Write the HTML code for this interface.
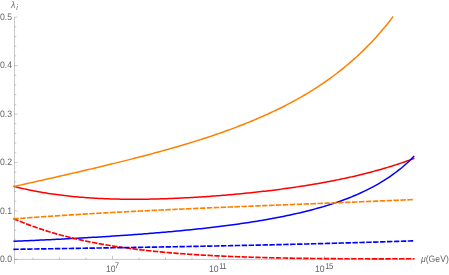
<!DOCTYPE html>
<html><head><meta charset="utf-8"><title>plot</title>
<style>
html,body{margin:0;padding:0;background:#fff;}
body{width:449px;height:275px;position:relative;overflow:hidden;font-family:"Liberation Sans",sans-serif;color:#666;}
#labels{position:absolute;left:0;top:0;width:449px;height:275px;will-change:transform;text-rendering:geometricPrecision;}
.t{position:absolute;font-size:9.3px;line-height:10px;white-space:nowrap;color:#666;transform:scaleX(0.93);transform-origin:0 50%;}
.sup{font-size:8.5px;position:relative;top:-2.8px;margin-left:0.8px;letter-spacing:-0.9px}
.sub{font-size:7.8px;position:relative;top:2px;margin-left:1.1px;}
i{font-style:italic;}
</style></head><body>
<svg width="449" height="275" viewBox="0 0 449 275" style="position:absolute;left:0;top:0">
<g stroke="#666" stroke-width="0.36" fill="none">
<line x1="14.5" y1="17.1" x2="14.5" y2="264"/>
<line x1="14.5" y1="259.4" x2="414.5" y2="259.4"/>
<line x1="14.5" y1="259.40" x2="17.5" y2="259.40"/>
<line x1="14.5" y1="249.71" x2="16.3" y2="249.71"/>
<line x1="14.5" y1="240.02" x2="16.3" y2="240.02"/>
<line x1="14.5" y1="230.33" x2="16.3" y2="230.33"/>
<line x1="14.5" y1="220.64" x2="16.3" y2="220.64"/>
<line x1="14.5" y1="210.95" x2="17.5" y2="210.95"/>
<line x1="14.5" y1="201.26" x2="16.3" y2="201.26"/>
<line x1="14.5" y1="191.57" x2="16.3" y2="191.57"/>
<line x1="14.5" y1="181.88" x2="16.3" y2="181.88"/>
<line x1="14.5" y1="172.19" x2="16.3" y2="172.19"/>
<line x1="14.5" y1="162.50" x2="17.5" y2="162.50"/>
<line x1="14.5" y1="152.81" x2="16.3" y2="152.81"/>
<line x1="14.5" y1="143.12" x2="16.3" y2="143.12"/>
<line x1="14.5" y1="133.43" x2="16.3" y2="133.43"/>
<line x1="14.5" y1="123.74" x2="16.3" y2="123.74"/>
<line x1="14.5" y1="114.05" x2="17.5" y2="114.05"/>
<line x1="14.5" y1="104.36" x2="16.3" y2="104.36"/>
<line x1="14.5" y1="94.67" x2="16.3" y2="94.67"/>
<line x1="14.5" y1="84.98" x2="16.3" y2="84.98"/>
<line x1="14.5" y1="75.29" x2="16.3" y2="75.29"/>
<line x1="14.5" y1="65.60" x2="17.5" y2="65.60"/>
<line x1="14.5" y1="55.91" x2="16.3" y2="55.91"/>
<line x1="14.5" y1="46.22" x2="16.3" y2="46.22"/>
<line x1="14.5" y1="36.53" x2="16.3" y2="36.53"/>
<line x1="14.5" y1="26.84" x2="16.3" y2="26.84"/>
<line x1="14.5" y1="17.15" x2="17.5" y2="17.15"/>
<line x1="33.00" y1="259.4" x2="33.00" y2="257.5"/>
<line x1="59.50" y1="259.4" x2="59.50" y2="257.5"/>
<line x1="86.00" y1="259.4" x2="86.00" y2="257.5"/>
<line x1="112.50" y1="259.4" x2="112.50" y2="255.79999999999998"/>
<line x1="139.00" y1="259.4" x2="139.00" y2="257.5"/>
<line x1="165.50" y1="259.4" x2="165.50" y2="257.5"/>
<line x1="192.00" y1="259.4" x2="192.00" y2="257.5"/>
<line x1="218.50" y1="259.4" x2="218.50" y2="255.79999999999998"/>
<line x1="245.00" y1="259.4" x2="245.00" y2="257.5"/>
<line x1="271.50" y1="259.4" x2="271.50" y2="257.5"/>
<line x1="298.00" y1="259.4" x2="298.00" y2="257.5"/>
<line x1="324.50" y1="259.4" x2="324.50" y2="255.79999999999998"/>
<line x1="351.00" y1="259.4" x2="351.00" y2="257.5"/>
<line x1="377.50" y1="259.4" x2="377.50" y2="257.5"/>
<line x1="404.00" y1="259.4" x2="404.00" y2="257.5"/>
</g>
<path d="M14.2,186.50 L16.2,187.00 L18.2,187.49 L20.2,187.97 L22.2,188.43 L24.2,188.89 L26.2,189.33 L28.3,189.75 L30.3,190.17 L32.3,190.57 L34.3,190.96 L36.3,191.34 L38.3,191.71 L40.3,192.07 L42.3,192.42 L44.3,192.76 L46.3,193.08 L48.3,193.40 L50.3,193.71 L52.3,194.00 L54.4,194.29 L56.4,194.56 L58.4,194.83 L60.4,195.09 L62.4,195.34 L64.4,195.58 L66.4,195.81 L68.4,196.03 L70.4,196.24 L72.4,196.45 L74.4,196.64 L76.4,196.83 L78.4,197.01 L80.4,197.18 L82.5,197.34 L84.5,197.50 L86.5,197.65 L88.5,197.79 L90.5,197.92 L92.5,198.05 L94.5,198.17 L96.5,198.28 L98.5,198.39 L100.5,198.49 L102.5,198.58 L104.5,198.67 L106.5,198.75 L108.6,198.82 L110.6,198.89 L112.6,198.95 L114.6,199.00 L116.6,199.05 L118.6,199.10 L120.6,199.14 L122.6,199.17 L124.6,199.20 L126.6,199.22 L128.6,199.23 L130.6,199.25 L132.6,199.25 L134.7,199.25 L136.7,199.25 L138.7,199.24 L140.7,199.23 L142.7,199.21 L144.7,199.19 L146.7,199.16 L148.7,199.13 L150.7,199.09 L152.7,199.05 L154.7,199.01 L156.7,198.96 L158.7,198.91 L160.8,198.85 L162.8,198.79 L164.8,198.73 L166.8,198.66 L168.8,198.59 L170.8,198.51 L172.8,198.43 L174.8,198.35 L176.8,198.26 L178.8,198.17 L180.8,198.07 L182.8,197.97 L184.8,197.87 L186.8,197.77 L188.9,197.66 L190.9,197.55 L192.9,197.43 L194.9,197.31 L196.9,197.19 L198.9,197.07 L200.9,196.94 L202.9,196.81 L204.9,196.67 L206.9,196.53 L208.9,196.39 L210.9,196.25 L212.9,196.10 L215.0,195.95 L217.0,195.79 L219.0,195.64 L221.0,195.48 L223.0,195.31 L225.0,195.14 L227.0,194.97 L229.0,194.80 L231.0,194.63 L233.0,194.45 L235.0,194.26 L237.0,194.08 L239.0,193.89 L241.1,193.70 L243.1,193.50 L245.1,193.30 L247.1,193.10 L249.1,192.89 L251.1,192.68 L253.1,192.47 L255.1,192.26 L257.1,192.04 L259.1,191.81 L261.1,191.59 L263.1,191.36 L265.1,191.13 L267.1,190.89 L269.2,190.65 L271.2,190.40 L273.2,190.16 L275.2,189.91 L277.2,189.65 L279.2,189.39 L281.2,189.13 L283.2,188.86 L285.2,188.59 L287.2,188.31 L289.2,188.03 L291.2,187.75 L293.2,187.46 L295.3,187.17 L297.3,186.87 L299.3,186.57 L301.3,186.26 L303.3,185.95 L305.3,185.64 L307.3,185.31 L309.3,184.99 L311.3,184.66 L313.3,184.32 L315.3,183.98 L317.3,183.64 L319.3,183.28 L321.4,182.93 L323.4,182.57 L325.4,182.20 L327.4,181.82 L329.4,181.44 L331.4,181.06 L333.4,180.67 L335.4,180.27 L337.4,179.87 L339.4,179.46 L341.4,179.04 L343.4,178.62 L345.4,178.19 L347.5,177.75 L349.5,177.31 L351.5,176.86 L353.5,176.40 L355.5,175.93 L357.5,175.46 L359.5,174.98 L361.5,174.49 L363.5,174.00 L365.5,173.49 L367.5,172.98 L369.5,172.46 L371.5,171.93 L373.5,171.40 L375.6,170.85 L377.6,170.30 L379.6,169.73 L381.6,169.16 L383.6,168.58 L385.6,167.99 L387.6,167.39 L389.6,166.78 L391.6,166.16 L393.6,165.53 L395.6,164.89 L397.6,164.24 L399.6,163.58 L401.7,162.91 L403.7,162.23 L405.7,161.53 L407.7,160.83 L409.7,160.11 L411.7,159.38 L413.7,158.64" fill="none" stroke="#ff0000" stroke-width="1.5" stroke-linejoin="round" stroke-linecap="square"/>
<path d="M14.2,186.50 L16.2,186.05 L18.2,185.60 L20.2,185.14 L22.2,184.69 L24.2,184.24 L26.2,183.79 L28.2,183.34 L30.2,182.89 L32.2,182.44 L34.2,181.99 L36.2,181.54 L38.2,181.09 L40.2,180.63 L42.2,180.18 L44.2,179.73 L46.2,179.28 L48.2,178.82 L50.2,178.37 L52.3,177.91 L54.3,177.46 L56.3,177.00 L58.3,176.55 L60.3,176.09 L62.3,175.63 L64.3,175.17 L66.3,174.71 L68.3,174.25 L70.3,173.79 L72.3,173.33 L74.3,172.87 L76.3,172.41 L78.3,171.94 L80.3,171.48 L82.3,171.01 L84.3,170.54 L86.3,170.07 L88.3,169.60 L90.3,169.13 L92.3,168.66 L94.3,168.19 L96.3,167.71 L98.3,167.23 L100.3,166.76 L102.3,166.28 L104.3,165.79 L106.3,165.31 L108.3,164.83 L110.3,164.34 L112.3,163.85 L114.3,163.36 L116.3,162.87 L118.3,162.38 L120.3,161.88 L122.3,161.38 L124.3,160.88 L126.3,160.38 L128.4,159.88 L130.4,159.37 L132.4,158.86 L134.4,158.35 L136.4,157.84 L138.4,157.32 L140.4,156.80 L142.4,156.28 L144.4,155.76 L146.4,155.23 L148.4,154.70 L150.4,154.16 L152.4,153.63 L154.4,153.09 L156.4,152.55 L158.4,152.00 L160.4,151.45 L162.4,150.90 L164.4,150.34 L166.4,149.78 L168.4,149.22 L170.4,148.65 L172.4,148.08 L174.4,147.50 L176.4,146.92 L178.4,146.34 L180.4,145.75 L182.4,145.16 L184.4,144.56 L186.4,143.96 L188.4,143.36 L190.4,142.74 L192.4,142.13 L194.4,141.51 L196.4,140.88 L198.4,140.25 L200.4,139.61 L202.4,138.97 L204.5,138.32 L206.5,137.67 L208.5,137.01 L210.5,136.35 L212.5,135.67 L214.5,135.00 L216.5,134.31 L218.5,133.62 L220.5,132.92 L222.5,132.22 L224.5,131.51 L226.5,130.79 L228.5,130.06 L230.5,129.33 L232.5,128.59 L234.5,127.84 L236.5,127.08 L238.5,126.32 L240.5,125.54 L242.5,124.76 L244.5,123.97 L246.5,123.17 L248.5,122.36 L250.5,121.54 L252.5,120.72 L254.5,119.88 L256.5,119.03 L258.5,118.17 L260.5,117.30 L262.5,116.42 L264.5,115.53 L266.5,114.63 L268.5,113.72 L270.5,112.79 L272.5,111.86 L274.5,110.91 L276.5,109.95 L278.5,108.97 L280.6,107.99 L282.6,106.99 L284.6,105.97 L286.6,104.94 L288.6,103.90 L290.6,102.84 L292.6,101.77 L294.6,100.68 L296.6,99.57 L298.6,98.45 L300.6,97.32 L302.6,96.16 L304.6,94.99 L306.6,93.80 L308.6,92.59 L310.6,91.37 L312.6,90.12 L314.6,88.86 L316.6,87.57 L318.6,86.27 L320.6,84.94 L322.6,83.59 L324.6,82.22 L326.6,80.83 L328.6,79.41 L330.6,77.97 L332.6,76.50 L334.6,75.01 L336.6,73.50 L338.6,71.95 L340.6,70.38 L342.6,68.79 L344.6,67.16 L346.6,65.50 L348.6,63.82 L350.6,62.10 L352.6,60.35 L354.6,58.57 L356.7,56.75 L358.7,54.90 L360.7,53.01 L362.7,51.09 L364.7,49.13 L366.7,47.13 L368.7,45.09 L370.7,43.01 L372.7,40.89 L374.7,38.72 L376.7,36.51 L378.7,34.25 L380.7,31.95 L382.7,29.60 L384.7,27.19 L386.7,24.74 L388.7,22.23 L390.7,19.66 L392.7,17.04" fill="none" stroke="#ff8000" stroke-width="1.5" stroke-linejoin="round" stroke-linecap="square"/>
<path d="M14.2,241.27 L16.2,241.19 L18.2,241.10 L20.2,241.02 L22.2,240.93 L24.2,240.84 L26.2,240.75 L28.3,240.67 L30.3,240.58 L32.3,240.49 L34.3,240.40 L36.3,240.30 L38.3,240.21 L40.3,240.12 L42.3,240.02 L44.3,239.93 L46.3,239.83 L48.3,239.74 L50.3,239.64 L52.3,239.54 L54.4,239.44 L56.4,239.34 L58.4,239.24 L60.4,239.14 L62.4,239.04 L64.4,238.93 L66.4,238.83 L68.4,238.72 L70.4,238.61 L72.4,238.51 L74.4,238.40 L76.4,238.29 L78.4,238.18 L80.4,238.07 L82.5,237.95 L84.5,237.84 L86.5,237.72 L88.5,237.61 L90.5,237.49 L92.5,237.37 L94.5,237.25 L96.5,237.13 L98.5,237.01 L100.5,236.89 L102.5,236.76 L104.5,236.64 L106.5,236.51 L108.6,236.38 L110.6,236.25 L112.6,236.12 L114.6,235.99 L116.6,235.85 L118.6,235.72 L120.6,235.58 L122.6,235.44 L124.6,235.30 L126.6,235.16 L128.6,235.02 L130.6,234.88 L132.6,234.73 L134.7,234.58 L136.7,234.44 L138.7,234.29 L140.7,234.13 L142.7,233.98 L144.7,233.82 L146.7,233.67 L148.7,233.51 L150.7,233.35 L152.7,233.19 L154.7,233.02 L156.7,232.85 L158.7,232.69 L160.8,232.52 L162.8,232.34 L164.8,232.17 L166.8,231.99 L168.8,231.82 L170.8,231.64 L172.8,231.45 L174.8,231.27 L176.8,231.08 L178.8,230.89 L180.8,230.70 L182.8,230.51 L184.8,230.31 L186.8,230.11 L188.9,229.91 L190.9,229.70 L192.9,229.50 L194.9,229.29 L196.9,229.08 L198.9,228.86 L200.9,228.64 L202.9,228.42 L204.9,228.20 L206.9,227.97 L208.9,227.74 L210.9,227.51 L212.9,227.28 L215.0,227.04 L217.0,226.80 L219.0,226.55 L221.0,226.30 L223.0,226.05 L225.0,225.79 L227.0,225.53 L229.0,225.27 L231.0,225.00 L233.0,224.73 L235.0,224.46 L237.0,224.18 L239.0,223.90 L241.1,223.61 L243.1,223.32 L245.1,223.02 L247.1,222.72 L249.1,222.42 L251.1,222.11 L253.1,221.79 L255.1,221.47 L257.1,221.15 L259.1,220.82 L261.1,220.49 L263.1,220.14 L265.1,219.80 L267.1,219.45 L269.2,219.09 L271.2,218.73 L273.2,218.36 L275.2,217.98 L277.2,217.60 L279.2,217.21 L281.2,216.82 L283.2,216.42 L285.2,216.01 L287.2,215.59 L289.2,215.17 L291.2,214.74 L293.2,214.30 L295.3,213.85 L297.3,213.39 L299.3,212.93 L301.3,212.46 L303.3,211.98 L305.3,211.48 L307.3,210.98 L309.3,210.47 L311.3,209.95 L313.3,209.42 L315.3,208.88 L317.3,208.33 L319.3,207.77 L321.4,207.19 L323.4,206.60 L325.4,206.00 L327.4,205.39 L329.4,204.76 L331.4,204.13 L333.4,203.47 L335.4,202.80 L337.4,202.12 L339.4,201.42 L341.4,200.71 L343.4,199.98 L345.4,199.23 L347.5,198.46 L349.5,197.68 L351.5,196.87 L353.5,196.05 L355.5,195.21 L357.5,194.34 L359.5,193.46 L361.5,192.55 L363.5,191.61 L365.5,190.65 L367.5,189.67 L369.5,188.66 L371.5,187.62 L373.5,186.55 L375.6,185.45 L377.6,184.32 L379.6,183.16 L381.6,181.97 L383.6,180.73 L385.6,179.46 L387.6,178.15 L389.6,176.80 L391.6,175.41 L393.6,173.97 L395.6,172.49 L397.6,170.95 L399.6,169.36 L401.7,167.72 L403.7,166.02 L405.7,164.26 L407.7,162.44 L409.7,160.55 L411.7,158.59 L413.7,156.55" fill="none" stroke="#0000ff" stroke-width="1.5" stroke-linejoin="round" stroke-linecap="square"/>
<path d="M14.2,218.93 L16.2,219.79 L18.2,220.64 L20.2,221.47 L22.2,222.28 L24.2,223.08 L26.2,223.86 L28.3,224.62 L30.3,225.37 L32.3,226.10 L34.3,226.82 L36.3,227.53 L38.3,228.22 L40.3,228.90 L42.3,229.56 L44.3,230.21 L46.3,230.85 L48.3,231.47 L50.3,232.08 L52.3,232.68 L54.4,233.27 L56.4,233.84 L58.4,234.41 L60.4,234.96 L62.4,235.50 L64.4,236.03 L66.4,236.55 L68.4,237.06 L70.4,237.56 L72.4,238.05 L74.4,238.52 L76.4,238.99 L78.4,239.45 L80.4,239.90 L82.5,240.34 L84.5,240.77 L86.5,241.19 L88.5,241.61 L90.5,242.01 L92.5,242.41 L94.5,242.80 L96.5,243.18 L98.5,243.55 L100.5,243.92 L102.5,244.27 L104.5,244.62 L106.5,244.97 L108.6,245.30 L110.6,245.63 L112.6,245.95 L114.6,246.27 L116.6,246.58 L118.6,246.88 L120.6,247.17 L122.6,247.46 L124.6,247.75 L126.6,248.02 L128.6,248.30 L130.6,248.56 L132.6,248.82 L134.7,249.08 L136.7,249.33 L138.7,249.57 L140.7,249.81 L142.7,250.04 L144.7,250.27 L146.7,250.49 L148.7,250.71 L150.7,250.92 L152.7,251.13 L154.7,251.34 L156.7,251.54 L158.7,251.73 L160.8,251.93 L162.8,252.11 L164.8,252.30 L166.8,252.48 L168.8,252.65 L170.8,252.82 L172.8,252.99 L174.8,253.15 L176.8,253.31 L178.8,253.47 L180.8,253.62 L182.8,253.77 L184.8,253.92 L186.8,254.06 L188.9,254.20 L190.9,254.34 L192.9,254.47 L194.9,254.60 L196.9,254.73 L198.9,254.85 L200.9,254.97 L202.9,255.09 L204.9,255.21 L206.9,255.32 L208.9,255.43 L210.9,255.54 L212.9,255.64 L215.0,255.74 L217.0,255.84 L219.0,255.94 L221.0,256.04 L223.0,256.13 L225.0,256.22 L227.0,256.31 L229.0,256.39 L231.0,256.48 L233.0,256.56 L235.0,256.64 L237.0,256.71 L239.0,256.79 L241.1,256.86 L243.1,256.94 L245.1,257.01 L247.1,257.07 L249.1,257.14 L251.1,257.20 L253.1,257.27 L255.1,257.33 L257.1,257.39 L259.1,257.44 L261.1,257.50 L263.1,257.55 L265.1,257.61 L267.1,257.66 L269.2,257.71 L271.2,257.76 L273.2,257.80 L275.2,257.85 L277.2,257.89 L279.2,257.93 L281.2,257.98 L283.2,258.02 L285.2,258.05 L287.2,258.09 L289.2,258.13 L291.2,258.16 L293.2,258.20 L295.3,258.23 L297.3,258.26 L299.3,258.29 L301.3,258.32 L303.3,258.35 L305.3,258.38 L307.3,258.40 L309.3,258.43 L311.3,258.45 L313.3,258.48 L315.3,258.50 L317.3,258.52 L319.3,258.54 L321.4,258.56 L323.4,258.58 L325.4,258.60 L327.4,258.61 L329.4,258.63 L331.4,258.64 L333.4,258.66 L335.4,258.67 L337.4,258.69 L339.4,258.70 L341.4,258.71 L343.4,258.72 L345.4,258.73 L347.5,258.74 L349.5,258.75 L351.5,258.76 L353.5,258.76 L355.5,258.77 L357.5,258.78 L359.5,258.78 L361.5,258.79 L363.5,258.79 L365.5,258.79 L367.5,258.80 L369.5,258.80 L371.5,258.80 L373.5,258.80 L375.6,258.80 L377.6,258.80 L379.6,258.80 L381.6,258.80 L383.6,258.80 L385.6,258.80 L387.6,258.80 L389.6,258.80 L391.6,258.79 L393.6,258.79 L395.6,258.79 L397.6,258.78 L399.6,258.78 L401.7,258.77 L403.7,258.77 L405.7,258.76 L407.7,258.75 L409.7,258.75 L411.7,258.74 L413.7,258.73" fill="none" stroke="#ff0000" stroke-width="1.65" stroke-linejoin="round" stroke-dasharray="3.8 3.045" stroke-linecap="square"/>
<path d="M14.2,218.83 L16.2,218.68 L18.2,218.53 L20.2,218.38 L22.2,218.23 L24.2,218.08 L26.2,217.93 L28.3,217.79 L30.3,217.64 L32.3,217.50 L34.3,217.35 L36.3,217.21 L38.3,217.07 L40.3,216.93 L42.3,216.79 L44.3,216.65 L46.3,216.52 L48.3,216.38 L50.3,216.25 L52.3,216.11 L54.4,215.98 L56.4,215.85 L58.4,215.71 L60.4,215.58 L62.4,215.45 L64.4,215.33 L66.4,215.20 L68.4,215.07 L70.4,214.94 L72.4,214.82 L74.4,214.69 L76.4,214.57 L78.4,214.45 L80.4,214.33 L82.5,214.21 L84.5,214.08 L86.5,213.97 L88.5,213.85 L90.5,213.73 L92.5,213.61 L94.5,213.49 L96.5,213.38 L98.5,213.26 L100.5,213.15 L102.5,213.04 L104.5,212.92 L106.5,212.81 L108.6,212.70 L110.6,212.59 L112.6,212.48 L114.6,212.37 L116.6,212.26 L118.6,212.15 L120.6,212.05 L122.6,211.94 L124.6,211.84 L126.6,211.73 L128.6,211.63 L130.6,211.52 L132.6,211.42 L134.7,211.32 L136.7,211.21 L138.7,211.11 L140.7,211.01 L142.7,210.91 L144.7,210.81 L146.7,210.71 L148.7,210.61 L150.7,210.52 L152.7,210.42 L154.7,210.32 L156.7,210.22 L158.7,210.13 L160.8,210.03 L162.8,209.94 L164.8,209.84 L166.8,209.75 L168.8,209.66 L170.8,209.56 L172.8,209.47 L174.8,209.38 L176.8,209.29 L178.8,209.20 L180.8,209.11 L182.8,209.02 L184.8,208.93 L186.8,208.84 L188.9,208.75 L190.9,208.66 L192.9,208.57 L194.9,208.48 L196.9,208.40 L198.9,208.31 L200.9,208.22 L202.9,208.14 L204.9,208.05 L206.9,207.96 L208.9,207.88 L210.9,207.79 L212.9,207.71 L215.0,207.62 L217.0,207.54 L219.0,207.46 L221.0,207.37 L223.0,207.29 L225.0,207.21 L227.0,207.12 L229.0,207.04 L231.0,206.96 L233.0,206.88 L235.0,206.80 L237.0,206.71 L239.0,206.63 L241.1,206.55 L243.1,206.47 L245.1,206.39 L247.1,206.31 L249.1,206.23 L251.1,206.15 L253.1,206.07 L255.1,205.99 L257.1,205.91 L259.1,205.83 L261.1,205.75 L263.1,205.67 L265.1,205.59 L267.1,205.51 L269.2,205.44 L271.2,205.36 L273.2,205.28 L275.2,205.20 L277.2,205.12 L279.2,205.04 L281.2,204.96 L283.2,204.88 L285.2,204.81 L287.2,204.73 L289.2,204.65 L291.2,204.57 L293.2,204.49 L295.3,204.41 L297.3,204.34 L299.3,204.26 L301.3,204.18 L303.3,204.10 L305.3,204.02 L307.3,203.94 L309.3,203.86 L311.3,203.79 L313.3,203.71 L315.3,203.63 L317.3,203.55 L319.3,203.47 L321.4,203.39 L323.4,203.31 L325.4,203.23 L327.4,203.15 L329.4,203.07 L331.4,202.99 L333.4,202.91 L335.4,202.83 L337.4,202.75 L339.4,202.67 L341.4,202.59 L343.4,202.51 L345.4,202.43 L347.5,202.35 L349.5,202.27 L351.5,202.19 L353.5,202.11 L355.5,202.02 L357.5,201.94 L359.5,201.86 L361.5,201.78 L363.5,201.69 L365.5,201.61 L367.5,201.53 L369.5,201.44 L371.5,201.36 L373.5,201.28 L375.6,201.19 L377.6,201.11 L379.6,201.02 L381.6,200.93 L383.6,200.85 L385.6,200.76 L387.6,200.68 L389.6,200.59 L391.6,200.50 L393.6,200.41 L395.6,200.32 L397.6,200.24 L399.6,200.15 L401.7,200.06 L403.7,199.97 L405.7,199.88 L407.7,199.79 L409.7,199.70 L411.7,199.60 L413.7,199.51" fill="none" stroke="#ff8000" stroke-width="1.65" stroke-linejoin="round" stroke-dasharray="3.8 3.12" stroke-linecap="square"/>
<path d="M14.2,249.32 L16.2,249.29 L18.2,249.25 L20.2,249.22 L22.2,249.19 L24.2,249.16 L26.2,249.13 L28.3,249.10 L30.3,249.07 L32.3,249.04 L34.3,249.01 L36.3,248.97 L38.3,248.94 L40.3,248.91 L42.3,248.88 L44.3,248.85 L46.3,248.82 L48.3,248.79 L50.3,248.76 L52.3,248.73 L54.4,248.69 L56.4,248.66 L58.4,248.63 L60.4,248.60 L62.4,248.57 L64.4,248.54 L66.4,248.51 L68.4,248.48 L70.4,248.45 L72.4,248.41 L74.4,248.38 L76.4,248.35 L78.4,248.32 L80.4,248.29 L82.5,248.26 L84.5,248.23 L86.5,248.19 L88.5,248.16 L90.5,248.13 L92.5,248.10 L94.5,248.07 L96.5,248.04 L98.5,248.00 L100.5,247.97 L102.5,247.94 L104.5,247.91 L106.5,247.88 L108.6,247.84 L110.6,247.81 L112.6,247.78 L114.6,247.75 L116.6,247.72 L118.6,247.68 L120.6,247.65 L122.6,247.62 L124.6,247.59 L126.6,247.55 L128.6,247.52 L130.6,247.49 L132.6,247.45 L134.7,247.42 L136.7,247.39 L138.7,247.35 L140.7,247.32 L142.7,247.29 L144.7,247.25 L146.7,247.22 L148.7,247.18 L150.7,247.15 L152.7,247.12 L154.7,247.08 L156.7,247.05 L158.7,247.01 L160.8,246.98 L162.8,246.94 L164.8,246.91 L166.8,246.87 L168.8,246.84 L170.8,246.80 L172.8,246.77 L174.8,246.73 L176.8,246.70 L178.8,246.66 L180.8,246.62 L182.8,246.59 L184.8,246.55 L186.8,246.51 L188.9,246.48 L190.9,246.44 L192.9,246.40 L194.9,246.37 L196.9,246.33 L198.9,246.29 L200.9,246.25 L202.9,246.22 L204.9,246.18 L206.9,246.14 L208.9,246.10 L210.9,246.06 L212.9,246.02 L215.0,245.99 L217.0,245.95 L219.0,245.91 L221.0,245.87 L223.0,245.83 L225.0,245.79 L227.0,245.75 L229.0,245.71 L231.0,245.67 L233.0,245.63 L235.0,245.58 L237.0,245.54 L239.0,245.50 L241.1,245.46 L243.1,245.42 L245.1,245.38 L247.1,245.33 L249.1,245.29 L251.1,245.25 L253.1,245.21 L255.1,245.16 L257.1,245.12 L259.1,245.08 L261.1,245.03 L263.1,244.99 L265.1,244.94 L267.1,244.90 L269.2,244.85 L271.2,244.81 L273.2,244.76 L275.2,244.72 L277.2,244.67 L279.2,244.63 L281.2,244.58 L283.2,244.53 L285.2,244.49 L287.2,244.44 L289.2,244.39 L291.2,244.34 L293.2,244.29 L295.3,244.25 L297.3,244.20 L299.3,244.15 L301.3,244.10 L303.3,244.05 L305.3,244.00 L307.3,243.95 L309.3,243.90 L311.3,243.85 L313.3,243.80 L315.3,243.75 L317.3,243.70 L319.3,243.64 L321.4,243.59 L323.4,243.54 L325.4,243.49 L327.4,243.43 L329.4,243.38 L331.4,243.33 L333.4,243.27 L335.4,243.22 L337.4,243.16 L339.4,243.11 L341.4,243.05 L343.4,243.00 L345.4,242.94 L347.5,242.88 L349.5,242.83 L351.5,242.77 L353.5,242.71 L355.5,242.66 L357.5,242.60 L359.5,242.54 L361.5,242.48 L363.5,242.42 L365.5,242.36 L367.5,242.30 L369.5,242.24 L371.5,242.18 L373.5,242.12 L375.6,242.06 L377.6,242.00 L379.6,241.93 L381.6,241.87 L383.6,241.81 L385.6,241.75 L387.6,241.68 L389.6,241.62 L391.6,241.55 L393.6,241.49 L395.6,241.42 L397.6,241.36 L399.6,241.29 L401.7,241.23 L403.7,241.16 L405.7,241.09 L407.7,241.03 L409.7,240.96 L411.7,240.89 L413.7,240.82" fill="none" stroke="#0000ff" stroke-width="1.65" stroke-linejoin="round" stroke-dasharray="3.8 3.12" stroke-linecap="square"/>
</svg>
<div id="labels">
<div class="t" style="left:10.90px;top:0.32px;"><i>&#955;<span class="sub">i</span></i></div>
<div class="t" style="left:0.00px;top:12.02px;">0.5</div>
<div class="t" style="left:0.00px;top:60.02px;">0.4</div>
<div class="t" style="left:0.00px;top:109.02px;">0.3</div>
<div class="t" style="left:0.00px;top:157.02px;">0.2</div>
<div class="t" style="left:0.00px;top:206.02px;">0.1</div>
<div class="t" style="left:0.00px;top:254.02px;">0.0</div>
<div class="t" style="left:105.70px;top:263.82px;">10<span class="sup" style="margin-left:-0.9px;top:-3.6px">7</span></div>
<div class="t" style="left:209.10px;top:263.82px;">10<span class="sup">11</span></div>
<div class="t" style="left:314.50px;top:263.82px;">10<span class="sup">15</span></div>
<div class="t" style="left:421.00px;top:253.92px;"><i>&#956;</i>(GeV)</div>
</div>
</body></html>
